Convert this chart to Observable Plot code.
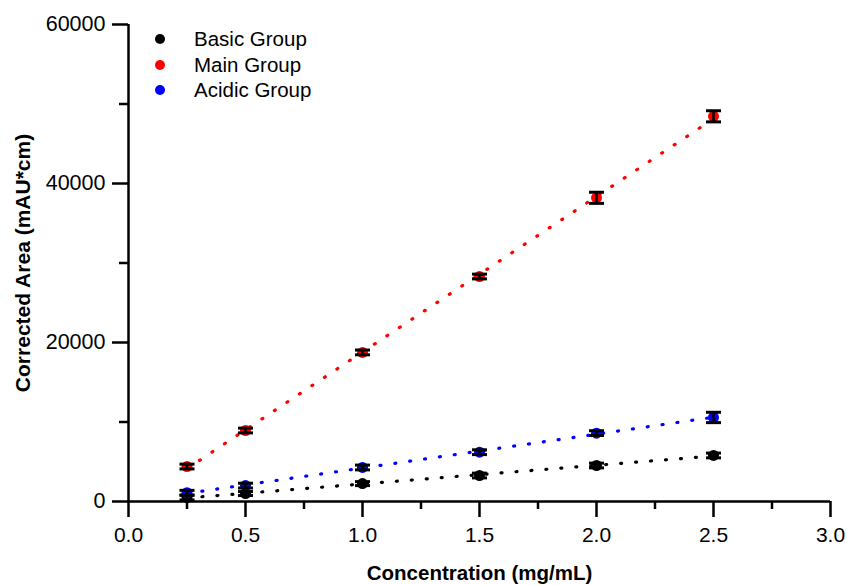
<!DOCTYPE html>
<html>
<head>
<meta charset="utf-8">
<script src="https://cdn.jsdelivr.net/npm/d3@7"></script>
<script src="https://cdn.jsdelivr.net/npm/@observablehq/plot@0.6"></script>
<style>
  html, body { margin: 0; padding: 0; background: #fff; }
  #wrap { position: relative; width: 847px; height: 585px; }
  #legend { position: absolute; left: 152px; top: 26px; font-family: Arial, "Liberation Sans", sans-serif; font-size: 20.5px; color: #000; }
  #legend .row { display: flex; align-items: center; height: 25.8px; }
  #legend .sw { width: 10px; height: 10px; border-radius: 50%; margin-right: 29px; margin-left: 3px; }
</style>
</head>
<body>
<div id="wrap">
  <div id="chart"></div>
  <div id="legend"></div>
</div>
<script>
const conc = [0.25, 0.5, 1.0, 1.5, 2.0, 2.5];
const basicY = [500, 1000, 2250, 3270, 4530, 5790];
const mainY = [4400, 8930, 18750, 28300, 38200, 48450];
const acidicY = [1100, 2000, 4280, 6200, 8600, 10570];
const basicErr = [300, 250, 250, 300, 300, 300];
const mainErr = [300, 300, 300, 300, 700, 700];
const acidicErr = [300, 300, 300, 300, 300, 650];

const groups = ["Basic Group", "Main Group", "Acidic Group"];
const groupColors = ["#000000", "#ff0000", "#0000ff"];
const xMajor = [0, 0.5, 1.0, 1.5, 2.0, 2.5, 3.0];
const xMinor = [0.25, 0.75, 1.25, 1.75, 2.25, 2.75];
const yMajor = [0, 20000, 40000, 60000];
const yMinor = [10000, 30000, 50000];
const xTitle = "Concentration (mg/mL)";
const yTitle = "Corrected Area (mAU*cm)";

const series = [
  {name: groups[0], ys: basicY, errs: basicErr},
  {name: groups[1], ys: mainY, errs: mainErr},
  {name: groups[2], ys: acidicY, errs: acidicErr}
];
const rows = series.flatMap(s => conc.map((c, i) => ({group: s.name, x: c, y: s.ys[i], err: s.errs[i]})));
const colorOf = Object.fromEntries(groups.map((g, i) => [g, groupColors[i]]));

const capSymbol = {
  draw(context, size) {
    const r = Math.sqrt(size / Math.PI);
    context.moveTo(-r, 0);
    context.lineTo(r, 0);
  }
};

const font = "Arial, 'Liberation Sans', sans-serif";

const plot = Plot.plot({
  width: 847,
  height: 585,
  marginLeft: 128,
  marginRight: 17,
  marginTop: 24,
  marginBottom: 84,
  style: {fontFamily: font, fontSize: "20px", color: "#000", background: "#fff"},
  x: {domain: [0, 3], axis: null},
  y: {domain: [0, 60000], axis: null},
  marks: [
    Plot.axisX({ticks: xMajor, tickSize: 16, tickPadding: 10, strokeWidth: 2.5, tickFormat: d3.format(".1f"),
      label: null, fontSize: 21}),
    Plot.axisX({ticks: xMinor, tickSize: 8, strokeWidth: 2.5, tickFormat: () => "", label: null}),
    Plot.axisY({ticks: yMajor, tickSize: 16, tickPadding: 7, strokeWidth: 2.5, tickFormat: d => String(d),
      label: null, fontSize: 21.5}),
    Plot.axisY({ticks: yMinor, tickSize: 9, strokeWidth: 2.5, tickFormat: () => "", label: null}),
    Plot.text([xTitle], {frameAnchor: "bottom", textAnchor: "middle", dy: 78, fontWeight: "bold", fontSize: 20.5, fill: "#000"}),
    Plot.text([yTitle], {frameAnchor: "left", textAnchor: "middle", rotate: -90, dx: -105, fontWeight: "bold", fontSize: 21, fill: "#000"}),
    Plot.ruleX([0], {y1: 0, y2: 60000, strokeWidth: 2.5}),
    Plot.ruleY([0], {x1: 0, x2: 3, strokeWidth: 2.5}),
    ...groups.map(g => Plot.linearRegressionY(rows.filter(d => d.group === g), {
      x: "x", y: "y", ci: 0, stroke: colorOf[g], strokeWidth: 3.2,
      strokeDasharray: "1 14", strokeLinecap: "round"
    })),
    Plot.dot(rows, {x: "x", y: "y", r: 5.5, fill: d => colorOf[d.group], stroke: "none"}),
    Plot.ruleX(rows, {x: "x", y1: d => d.y - d.err, y2: d => d.y + d.err, stroke: "#000", strokeWidth: 2.5}),
    Plot.dot(rows, {x: "x", y: d => d.y + d.err, symbol: capSymbol, r: 7.5, stroke: "#000", strokeWidth: 3, fill: "none"}),
    Plot.dot(rows, {x: "x", y: d => d.y - d.err, symbol: capSymbol, r: 7.5, stroke: "#000", strokeWidth: 3, fill: "none"})
  ]
});
document.getElementById("chart").appendChild(plot);

const legend = document.getElementById("legend");
groups.forEach((g, i) => {
  const row = document.createElement("div");
  row.className = "row";
  const sw = document.createElement("span");
  sw.className = "sw";
  sw.style.background = groupColors[i];
  const t = document.createElement("span");
  t.textContent = g;
  row.appendChild(sw);
  row.appendChild(t);
  legend.appendChild(row);
});
</script>
</body>
</html>
